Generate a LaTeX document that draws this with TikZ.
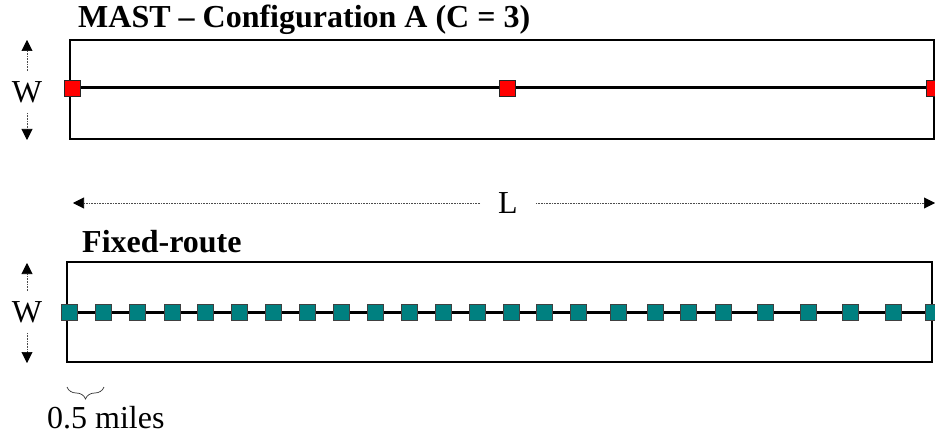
\documentclass[tikz,border=0pt]{standalone}
\usepackage{fontspec}
\setmainfont{Liberation Serif}[Ligatures=TeX]
\newfontfamily\timesfont{Liberation Serif}[Ligatures=TeX]
\usepackage{tikz}
\usepackage{xcolor}
\usetikzlibrary{arrows.meta}
\usetikzlibrary{backgrounds}
\usetikzlibrary{decorations.pathreplacing}
\definecolor{stopteal}{RGB}{0,128,128}

\begin{document}
\begin{tikzpicture}[x=1pt,y=-1pt,font=\timesfont\fontsize{32}{38}\selectfont]
	\tikzstyle{mastsq}=[rectangle,draw=black!85,fill=red,line width=0.8pt,minimum size=16pt,inner sep=0pt]
	\tikzstyle{stopsq}=[rectangle,draw=black!75,fill=stopteal,line width=0.8pt,minimum size=16pt,inner sep=0pt]
	\tikzstyle{route}=[draw=black, line width=3pt]
	\tikzstyle{zone}=[draw=black, line width=2pt]
	\tikzstyle{dim}=[draw=black!70, densely dotted, line width=0.6pt, -{Triangle[length=11pt,width=11pt,black]}]
	\tikzstyle{caption}=[inner sep=0pt, anchor=base west]
	\tikzstyle{dimlabel}=[inner xsep=2pt, inner ysep=10pt]
	\tikzstyle{spacing}=[draw=black!80, line width=0.7pt, decorate, decoration={brace,mirror,amplitude=12pt}]

	\useasboundingbox (0,0) rectangle (935,441);

	 \node [caption] (titlemast) at (78,28) {\textbf{MAST -- Configuration A (C = 3)}};
	 \node [mastsq] (m1) at (72,88) {};
	 \node [mastsq] (m2) at (507,88) {};
	 \node [mastsq] (m3) at (934,88) {};

	 \node [dimlabel] (w1) at (27,92) {W};
	 \coordinate (w1up) at (27,40);
	 \coordinate (w1down) at (27,140);
	 \path[dim] (w1) -- (w1up);
	 \path[dim] (w1) -- (w1down);

	 \node [dimlabel, inner xsep=18pt] (len) at (508,203) {L};
	 \coordinate (lenleft) at (73,203);
	 \coordinate (lenright) at (935,203);
	 \path[dim] (len) -- (lenleft);
	 \path[dim] (len) -- (lenright);

	 \node [caption] (titlefixed) at (82,252) {\textbf{Fixed-route}};
	 \node [stopsq] (s1) at (69,312) {};
	 \node [stopsq] (s2) at (103,312) {};
	 \node [stopsq] (s3) at (137,312) {};
	 \node [stopsq] (s4) at (172,312) {};
	 \node [stopsq] (s5) at (205,312) {};
	 \node [stopsq] (s6) at (239,312) {};
	 \node [stopsq] (s7) at (273,312) {};
	 \node [stopsq] (s8) at (307,312) {};
	 \node [stopsq] (s9) at (341,312) {};
	 \node [stopsq] (s10) at (375,312) {};
	 \node [stopsq] (s11) at (409,312) {};
	 \node [stopsq] (s12) at (443,312) {};
	 \node [stopsq] (s13) at (477,312) {};
	 \node [stopsq] (s14) at (511,312) {};
	 \node [stopsq] (s15) at (544,312) {};
	 \node [stopsq] (s16) at (578,312) {};
	 \node [stopsq] (s17) at (618,312) {};
	 \node [stopsq] (s18) at (655,312) {};
	 \node [stopsq] (s19) at (688,312) {};
	 \node [stopsq] (s20) at (723,312) {};
	 \node [stopsq] (s21) at (765,312) {};
	 \node [stopsq] (s22) at (808,312) {};
	 \node [stopsq] (s23) at (850,312) {};
	 \node [stopsq] (s24) at (893,312) {};
	 \node [stopsq] (s25) at (933,312) {};

	 \node [dimlabel] (w2) at (27,312) {W};
	 \coordinate (w2up) at (27,263);
	 \coordinate (w2down) at (27,363);
	 \path[dim] (w2) -- (w2up);
	 \path[dim] (w2) -- (w2down);

	 \coordinate (b1) at (67,387);
	 \coordinate (b2) at (104,387);
	 \path[spacing] (b1) -- (b2);
	 \node [caption] (miles) at (47,428) {0.5 miles};

	 \begin{scope}[on background layer]
	 \draw[zone] (70,40) rectangle (934,139);
	 \draw[zone] (67,262) rectangle (932,362);
	 \path[route] (m1) -- (m3);
	 \path[route] (s1) -- (s25);
	 \end{scope}

\end{tikzpicture}
\end{document}
